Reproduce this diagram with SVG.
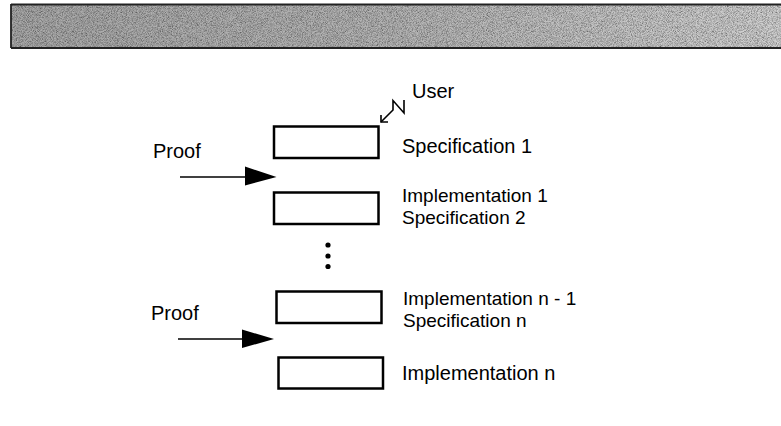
<svg xmlns="http://www.w3.org/2000/svg" width="781" height="426" viewBox="0 0 781 426">
  <defs>
    <style>
      .box { fill: #ffffff; stroke: #000; stroke-width: 2.5; }
      .txt { font-family: "Liberation Sans", Arial, sans-serif; font-size: 20px; fill: #000; }
      .txt2 { font-family: "Liberation Sans", Arial, sans-serif; font-size: 19px; fill: #000; }
      .line { stroke: #000; stroke-width: 1.6; fill: none; }
      .head { fill: #000; stroke: none; }
    </style>
    <linearGradient id="bandGrad" x1="0" y1="0" x2="1" y2="0">
      <stop offset="0" stop-color="#a9a9a9"/>
      <stop offset="0.5" stop-color="#b6b6b6"/>
      <stop offset="1" stop-color="#d2d2d2"/>
    </linearGradient>
    <filter id="noise" x="0" y="0" width="100%" height="100%">
      <feTurbulence type="fractalNoise" baseFrequency="1.2" numOctaves="2" seed="3" result="n"/>
      <feColorMatrix in="n" type="matrix" values="0 0 0 0 0  0 0 0 0 0  0 0 0 0 0  0 0 0 1.4 -0.45" result="dark"/>
      <feComposite in="dark" in2="SourceGraphic" operator="in" result="dk"/>
      <feMerge>
        <feMergeNode in="SourceGraphic"/>
        <feMergeNode in="dk"/>
      </feMerge>
    </filter>
  </defs>
  <rect width="781" height="426" fill="#ffffff"/>

  <g id="header-band">
    <rect x="11" y="4" width="772" height="44" fill="url(#bandGrad)" filter="url(#noise)"/>
    <path d="M11,4.5 H781 M11,48 H781 M11,4 V48" stroke="#222" stroke-width="1.8" fill="none"/>
  </g>

  <g id="connectors">
    <line class="line" x1="180" y1="177" x2="247" y2="177"/>
    <polygon class="head" points="245,166.5 276.5,177 245,185.5"/>
    <line class="line" x1="178" y1="339" x2="244" y2="339"/>
    <polygon class="head" points="242,329.5 274,339 242,348"/>
    <path class="line" d="M404,100 L404,113 L393,100.5 L393,110 L381,122"/>
    <path class="line" d="M388,122 L381,122 L381,115"/>
  </g>

  <g id="user-label">
    <text class="txt" x="412" y="98">User</text>
  </g>

  <g id="proof-1">
    <text class="txt" x="153" y="158">Proof</text>
  </g>
  <g id="proof-2">
    <text class="txt" x="151" y="320">Proof</text>
  </g>

  <g id="spec-1">
    <rect class="box" x="274" y="126.5" width="104.5" height="31.5"/>
    <text class="txt" x="402" y="153">Specification 1</text>
  </g>

  <g id="impl-1-spec-2">
    <rect class="box" x="274" y="192.5" width="104.5" height="31.5"/>
    <text class="txt2" x="402" y="201.5">Implementation 1</text>
    <text class="txt2" x="402" y="223.5">Specification 2</text>
  </g>

  <g id="ellipsis">
    <circle cx="328" cy="245" r="2.6" fill="#000"/>
    <circle cx="328" cy="256" r="2.6" fill="#000"/>
    <circle cx="328" cy="266.5" r="2.6" fill="#000"/>
  </g>

  <g id="impl-n-1-spec-n">
    <rect class="box" x="276.5" y="291.5" width="105" height="31.5"/>
    <text class="txt2" x="403" y="304.5">Implementation n - 1</text>
    <text class="txt2" x="403" y="326.5">Specification n</text>
  </g>

  <g id="impl-n">
    <rect class="box" x="278.5" y="357.5" width="104.5" height="31"/>
    <text class="txt" x="402" y="380">Implementation n</text>
  </g>
</svg>
